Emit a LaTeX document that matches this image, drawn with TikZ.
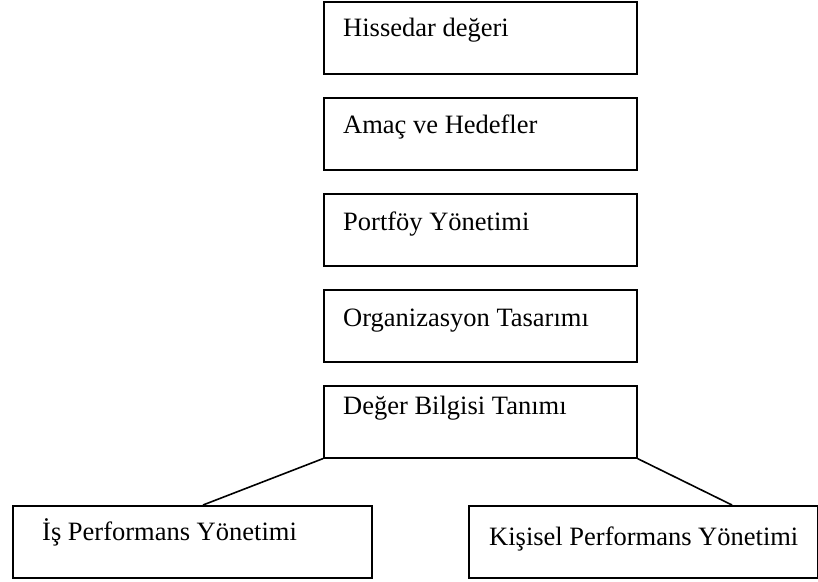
\documentclass[tikz,border=0pt]{standalone}
\usepackage{fontspec}
\setmainfont{Liberation Serif}
\begin{document}
\begin{tikzpicture}[x=1pt,y=-1pt,
  box/.style={draw=black,line width=1.6pt,anchor=north west,inner sep=0pt,minimum width=#1,minimum height=72pt},
  box/.default=313pt,
  lbl/.style={anchor=base west,inner sep=0pt,font=\fontsize{26.5}{30}\selectfont},
  link/.style={draw=black,line width=1.6pt}]
\useasboundingbox (0,0) rectangle (818,581);
% central chain
\node[box] (b1) at (323,1) {};
\node[box] (b2) at (323,97) {};
\node[box] (b3) at (323,193) {};
\node[box] (b4) at (323,289) {};
\node[box] (b5) at (323,385) {};
% lower pair
\node[box=359pt] (bl) at (12,505) {};
\node[box=349pt] (br) at (468,505) {};
% captions
\node[lbl] (t1) at ([shift={(20,35)}]b1.north west) {Hissedar değeri};
\node[lbl] (t2) at ([shift={(20,36)}]b2.north west) {Amaç ve Hedefler};
\node[lbl] (t3) at ([shift={(20,37)}]b3.north west) {Portföy Yönetimi};
\node[lbl] (t4) at ([shift={(20,37)}]b4.north west) {Organizasyon Tasarımı};
\node[lbl] (t5) at ([shift={(20,29)}]b5.north west) {Değer Bilgisi Tanımı};
\node[lbl] (tl) at ([shift={(30,35)}]bl.north west) {İş Performans Yönetimi};
\node[lbl] (tr) at ([shift={(21,40)}]br.north west) {Kişisel Performans Yönetimi};
% connectors
\coordinate (cl) at (203,505);
\coordinate (cr) at (732,505);
\draw[link] (b5.south west) -- (cl);
\draw[link] (b5.south east) -- (cr);
\end{tikzpicture}
\end{document}
